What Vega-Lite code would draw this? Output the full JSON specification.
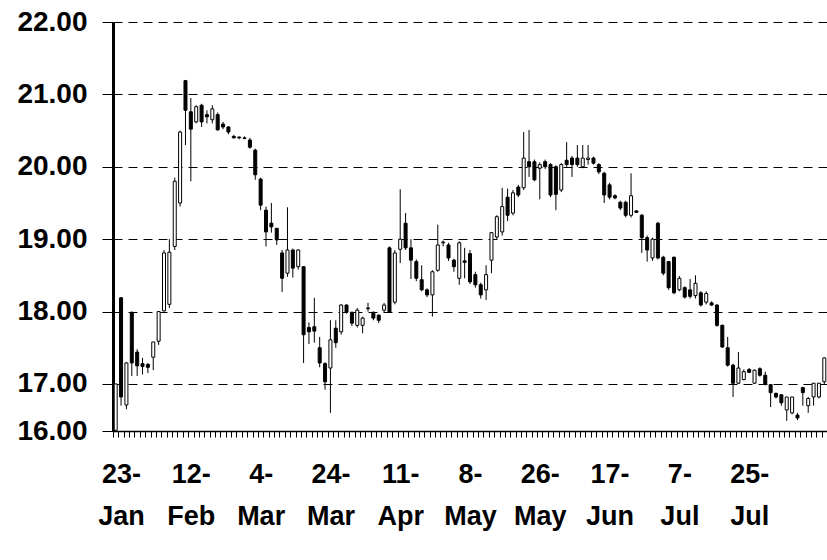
{
"$schema": "https://vega.github.io/schema/vega-lite/v6.json",
"autosize": {"type": "none"},
"padding": {"left": 113, "top": 22, "right": 0, "bottom": 129},
"width": 714,
"height": 409,
"background": "white",
"config": {"view": {"stroke": null}},
"data": {"values": [
{"i":0,"o":16.36,"h":17.0,"l":16.36,"c":17.0},
{"i":1,"o":18.19,"h":18.2,"l":16.70,"c":16.82},
{"i":2,"o":16.71,"h":17.30,"l":16.65,"c":17.29},
{"i":3,"o":17.99,"h":18.0,"l":17.11,"c":17.29},
{"i":4,"o":17.44,"h":17.48,"l":17.11,"c":17.25},
{"i":5,"o":17.28,"h":17.36,"l":17.13,"c":17.24},
{"i":6,"o":17.27,"h":17.29,"l":17.15,"c":17.23},
{"i":7,"o":17.37,"h":17.58,"l":17.19,"c":17.58},
{"i":8,"o":17.59,"h":18.0,"l":17.54,"c":18.0},
{"i":9,"o":18.01,"h":18.85,"l":18.0,"c":18.81},
{"i":10,"o":18.1,"h":19.0,"l":18.05,"c":18.82},
{"i":11,"o":18.9,"h":19.85,"l":18.85,"c":19.8},
{"i":12,"o":19.5,"h":20.5,"l":19.45,"c":20.48},
{"i":13,"o":21.19,"h":21.2,"l":20.30,"c":20.78},
{"i":14,"o":20.76,"h":20.95,"l":19.80,"c":20.52},
{"i":15,"o":20.62,"h":20.85,"l":20.6,"c":20.83},
{"i":16,"o":20.85,"h":20.87,"l":20.55,"c":20.62},
{"i":17,"o":20.72,"h":20.78,"l":20.6,"c":20.69},
{"i":18,"o":20.65,"h":20.85,"l":20.6,"c":20.8},
{"i":19,"o":20.72,"h":20.75,"l":20.5,"c":20.51},
{"i":20,"o":20.59,"h":20.62,"l":20.52,"c":20.55},
{"i":21,"o":20.55,"h":20.56,"l":20.45,"c":20.48},
{"i":22,"o":20.42,"h":20.44,"l":20.39,"c":20.40},
{"i":23,"o":20.41,"h":20.42,"l":20.38,"c":20.40},
{"i":24,"o":20.40,"h":20.42,"l":20.38,"c":20.39},
{"i":25,"o":20.37,"h":20.40,"l":20.25,"c":20.27},
{"i":26,"o":20.23,"h":20.25,"l":19.82,"c":19.89},
{"i":27,"o":19.83,"h":19.85,"l":19.4,"c":19.47},
{"i":28,"o":19.4,"h":19.45,"l":18.9,"c":19.1},
{"i":29,"o":19.22,"h":19.5,"l":19.09,"c":19.17},
{"i":30,"o":19.15,"h":19.15,"l":18.92,"c":18.99},
{"i":31,"o":18.81,"h":18.85,"l":18.27,"c":18.46},
{"i":32,"o":18.53,"h":19.44,"l":18.48,"c":18.85},
{"i":33,"o":18.85,"h":18.87,"l":18.47,"c":18.60},
{"i":34,"o":18.62,"h":18.86,"l":18.58,"c":18.85},
{"i":35,"o":18.62,"h":18.62,"l":17.29,"c":17.68},
{"i":36,"o":17.78,"h":17.85,"l":17.55,"c":17.72},
{"i":37,"o":17.79,"h":18.19,"l":17.57,"c":17.73},
{"i":38,"o":17.50,"h":17.65,"l":17.23,"c":17.29},
{"i":39,"o":17.28,"h":17.3,"l":16.92,"c":17.03},
{"i":40,"o":17.22,"h":17.88,"l":16.6,"c":17.61},
{"i":41,"o":17.77,"h":17.88,"l":17.5,"c":17.57},
{"i":42,"o":17.72,"h":18.1,"l":17.68,"c":18.09},
{"i":43,"o":18.09,"h":18.1,"l":17.97,"c":17.99},
{"i":44,"o":17.99,"h":18.0,"l":17.8,"c":17.84},
{"i":45,"o":17.81,"h":18.05,"l":17.78,"c":18.02},
{"i":46,"o":17.81,"h":17.93,"l":17.7,"c":17.91},
{"i":47,"o":18.04,"h":18.12,"l":18.0,"c":18.05},
{"i":48,"o":17.99,"h":18.0,"l":17.88,"c":17.91},
{"i":49,"o":17.95,"h":17.96,"l":17.84,"c":17.88},
{"i":50,"o":18.02,"h":18.12,"l":17.99,"c":18.09},
{"i":51,"o":18.88,"h":18.9,"l":17.98,"c":17.99},
{"i":52,"o":18.13,"h":18.85,"l":18.1,"c":18.81},
{"i":53,"o":18.86,"h":19.69,"l":18.67,"c":19.0},
{"i":54,"o":19.22,"h":19.36,"l":18.85,"c":18.88},
{"i":55,"o":18.88,"h":19.0,"l":18.45,"c":18.71},
{"i":56,"o":18.69,"h":18.72,"l":18.42,"c":18.46},
{"i":57,"o":18.44,"h":18.64,"l":18.28,"c":18.30},
{"i":58,"o":18.30,"h":18.32,"l":18.2,"c":18.23},
{"i":59,"o":18.23,"h":18.57,"l":17.93,"c":18.55},
{"i":60,"o":18.57,"h":19.2,"l":18.55,"c":18.92},
{"i":61,"o":18.95,"h":18.98,"l":18.9,"c":18.96},
{"i":62,"o":18.92,"h":18.95,"l":18.7,"c":18.74},
{"i":63,"o":18.71,"h":18.73,"l":18.55,"c":18.62},
{"i":64,"o":18.46,"h":18.97,"l":18.37,"c":18.95},
{"i":65,"o":18.7,"h":18.88,"l":18.46,"c":18.68},
{"i":66,"o":18.80,"h":18.85,"l":18.38,"c":18.41},
{"i":67,"o":18.51,"h":18.55,"l":18.33,"c":18.37},
{"i":68,"o":18.37,"h":18.4,"l":18.18,"c":18.23},
{"i":69,"o":18.30,"h":18.64,"l":18.16,"c":18.51},
{"i":70,"o":18.71,"h":19.1,"l":18.53,"c":19.09},
{"i":71,"o":19.03,"h":19.33,"l":19.0,"c":19.31},
{"i":72,"o":19.1,"h":19.71,"l":19.05,"c":19.45},
{"i":73,"o":19.58,"h":19.7,"l":19.25,"c":19.33},
{"i":74,"o":19.36,"h":19.68,"l":19.33,"c":19.64},
{"i":75,"o":19.72,"h":19.75,"l":19.58,"c":19.61},
{"i":76,"o":19.71,"h":20.48,"l":19.68,"c":20.12},
{"i":77,"o":20.07,"h":20.51,"l":19.86,"c":20.0},
{"i":78,"o":20.07,"h":20.1,"l":19.8,"c":19.82},
{"i":79,"o":19.98,"h":20.06,"l":19.55,"c":20.03},
{"i":80,"o":20.07,"h":20.1,"l":19.97,"c":20.0},
{"i":81,"o":20.03,"h":20.05,"l":19.58,"c":19.61},
{"i":82,"o":20.0,"h":20.02,"l":19.40,"c":19.62},
{"i":83,"o":19.68,"h":20.05,"l":19.65,"c":20.03},
{"i":84,"o":20.09,"h":20.34,"l":20.0,"c":20.03},
{"i":85,"o":20.12,"h":20.15,"l":19.86,"c":20.03},
{"i":86,"o":20.12,"h":20.3,"l":20.0,"c":20.03},
{"i":87,"o":20.0,"h":20.3,"l":19.98,"c":20.12},
{"i":88,"o":20.1,"h":20.3,"l":20.03,"c":20.12},
{"i":89,"o":20.12,"h":20.14,"l":20.03,"c":20.05},
{"i":90,"o":20.03,"h":20.05,"l":19.9,"c":19.93},
{"i":91,"o":19.91,"h":19.93,"l":19.5,"c":19.61},
{"i":92,"o":19.75,"h":19.78,"l":19.55,"c":19.58},
{"i":93,"o":19.6,"h":19.62,"l":19.55,"c":19.57},
{"i":94,"o":19.51,"h":19.53,"l":19.4,"c":19.43},
{"i":95,"o":19.51,"h":19.53,"l":19.3,"c":19.33},
{"i":96,"o":19.33,"h":19.91,"l":19.3,"c":19.6},
{"i":97,"o":19.39,"h":19.4,"l":19.36,"c":19.37},
{"i":98,"o":19.33,"h":19.35,"l":18.81,"c":19.02},
{"i":99,"o":19.02,"h":19.05,"l":18.69,"c":18.85},
{"i":100,"o":18.74,"h":19.02,"l":18.7,"c":19.0},
{"i":101,"o":19.22,"h":19.24,"l":18.72,"c":18.74},
{"i":102,"o":18.75,"h":18.77,"l":18.5,"c":18.53},
{"i":103,"o":18.69,"h":18.7,"l":18.3,"c":18.33},
{"i":104,"o":18.75,"h":18.76,"l":18.24,"c":18.26},
{"i":105,"o":18.30,"h":18.49,"l":18.28,"c":18.46},
{"i":106,"o":18.33,"h":18.35,"l":18.18,"c":18.20},
{"i":107,"o":18.30,"h":18.45,"l":18.18,"c":18.21},
{"i":108,"o":18.22,"h":18.5,"l":18.18,"c":18.39},
{"i":109,"o":18.26,"h":18.28,"l":18.07,"c":18.09},
{"i":110,"o":18.13,"h":18.28,"l":18.1,"c":18.25},
{"i":111,"o":18.12,"h":18.14,"l":18.08,"c":18.09},
{"i":112,"o":18.09,"h":18.1,"l":17.79,"c":17.81},
{"i":113,"o":17.81,"h":17.82,"l":17.5,"c":17.51},
{"i":114,"o":17.50,"h":17.65,"l":17.24,"c":17.26},
{"i":115,"o":17.26,"h":17.28,"l":16.82,"c":17.01},
{"i":116,"o":17.01,"h":17.44,"l":17.0,"c":17.22},
{"i":117,"o":17.06,"h":17.2,"l":17.05,"c":17.17},
{"i":118,"o":17.2,"h":17.22,"l":17.15,"c":17.16},
{"i":119,"o":17.01,"h":17.2,"l":17.0,"c":17.19},
{"i":120,"o":17.21,"h":17.23,"l":17.1,"c":17.12},
{"i":121,"o":17.12,"h":17.17,"l":16.98,"c":17.0},
{"i":122,"o":16.99,"h":17.0,"l":16.68,"c":16.88},
{"i":123,"o":16.87,"h":16.88,"l":16.8,"c":16.82},
{"i":124,"o":16.85,"h":16.86,"l":16.7,"c":16.74},
{"i":125,"o":16.64,"h":16.82,"l":16.49,"c":16.82},
{"i":126,"o":16.6,"h":16.82,"l":16.58,"c":16.82},
{"i":127,"o":16.57,"h":16.6,"l":16.5,"c":16.53},
{"i":128,"o":16.95,"h":16.96,"l":16.7,"c":16.88},
{"i":129,"o":16.7,"h":16.82,"l":16.6,"c":16.8},
{"i":130,"o":16.82,"h":17.01,"l":16.70,"c":17.01},
{"i":131,"o":16.82,"h":17.01,"l":16.8,"c":17.01},
{"i":132,"o":17.03,"h":17.36,"l":17.0,"c":17.36}
]},
"encoding": {
  "x": {"field": "i", "type": "ordinal",
    "scale": {"paddingInner": 0, "paddingOuter": 0},
    "axis": {"title": null, "labelAngle": 0, "labelOverlap": false, "labelBound": false,
      "tickBand": "extent", "tickSize": 6, "tickColor": "black", "tickWidth": 1,
      "domainColor": "black", "domainWidth": 1.5,
      "labelFont": "Liberation Sans", "labelFontWeight": "bold", "labelFontSize": 27,
      "labelColor": "black", "labelLineHeight": 42, "labelPadding": 24,
      "labelExpr": "datum.value % 13 == 1 ? [['23-','Jan'],['12-','Feb'],['4-','Mar'],['24-','Mar'],['11-','Apr'],['8-','May'],['26-','May'],['17-','Jun'],['7-','Jul'],['25-','Jul']][(datum.value - 1) / 13] : ''"}}
},
"layer": [
  {"mark": {"type": "rule", "color": "black", "strokeWidth": 1},
   "encoding": {
     "y": {"field": "l", "type": "quantitative",
       "scale": {"domain": [16.35, 22], "zero": false, "nice": false},
       "axis": {"title": null, "values": [16.35, 17, 18, 19, 20, 21, 22],
         "labelExpr": "datum.value < 16.5 ? '16.00' : format(datum.value, '.2f')",
         "labelFont": "Liberation Sans", "labelFontWeight": "bold", "labelFontSize": 28,
         "labelColor": "black", "labelPadding": 15,
         "tickSize": 11, "tickColor": "black", "tickWidth": 1,
         "domainColor": "black", "domainWidth": 3,
         "grid": true, "gridColor": "black", "gridDash": [9, 6], "gridWidth": 1, "gridOpacity": 1}},
     "y2": {"field": "h"}}},
  {"mark": {"type": "bar", "size": 3, "stroke": "black", "strokeWidth": 1},
   "encoding": {
     "y": {"field": "o", "type": "quantitative"},
     "y2": {"field": "c"},
     "fill": {"condition": {"test": "datum.c >= datum.o", "value": "white"}, "value": "black"}}}
]
}
